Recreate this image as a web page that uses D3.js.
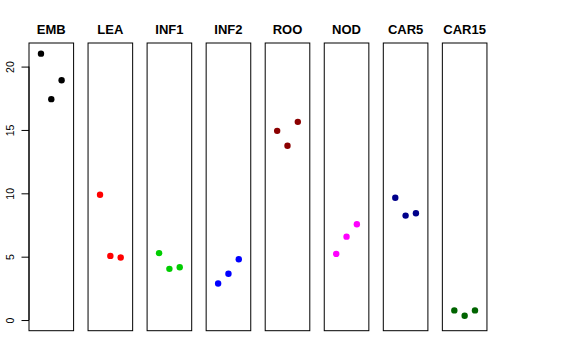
<!DOCTYPE html>
<html>
<head>
<meta charset="utf-8">
<script src="https://cdn.jsdelivr.net/npm/d3@7/dist/d3.min.js"></script>
<style>
  html, body { margin: 0; padding: 0; background: #fff; }
  svg { display: block; font-family: "Liberation Sans", Arial, Helvetica, sans-serif; }
</style>
</head>
<body>
<svg id="chart" width="576" height="360"></svg>
<script>
// ---- data ----
const categories = ["EMB", "LEA", "INF1", "INF2", "ROO", "NOD", "CAR5", "CAR15"];
const rep1 = [21.02, 9.89, 5.28, 2.88, 14.93, 5.22, 9.65, 0.76];
const rep2 = [17.43, 5.06, 4.04, 3.65, 13.75, 6.58, 8.24, 0.34];
const rep3 = [18.92, 4.93, 4.17, 4.80, 15.64, 7.56, 8.43, 0.76];
const colors = ["#000000", "#FF0000", "#00CD00", "#0000FF", "#8B0000", "#FF00FF", "#00008B", "#006400"];
const yTicks = [0, 5, 10, 15, 20];
const xPositions = [1, 2, 3];

// ---- layout ----
const svg = d3.select("#chart");
const panelLeft0 = 29, panelStep = 59.05, panelW = 44.6;
const panelTop = 43, panelBottom = 330.7;

const allVals = rep1.concat(rep2, rep3);
const yMin = 0, yMax = d3.max(allVals);
const pad = (yMax - yMin) * 0.04;
const y = d3.scaleLinear().domain([yMin - pad, yMax + pad]).range([panelBottom, panelTop]);

const panel = d3.scaleBand().domain(categories)
  .range([panelLeft0, panelLeft0 + panelStep * (categories.length - 1) + panelW])
  .paddingInner((panelStep - panelW) / panelStep).paddingOuter(0);

const xPad = (4 - 0) * 0.04;
const xInner = d3.scaleLinear().domain([0 - xPad, 4 + xPad]).range([0, panel.bandwidth()]);

categories.forEach((cat, i) => {
  const g = svg.append("g").attr("transform", `translate(${panel(cat)},0)`);
  const pts = [rep1[i], rep2[i], rep3[i]];
  g.selectAll("circle").data(pts).enter().append("circle")
    .attr("cx", (d, j) => xInner(xPositions[j]))
    .attr("cy", d => y(d))
    .attr("r", 3.2)
    .attr("fill", colors[i]);
  g.append("rect")
    .attr("x", 0).attr("y", panelTop)
    .attr("width", panel.bandwidth()).attr("height", panelBottom - panelTop)
    .attr("fill", "none").attr("stroke", "#000").attr("stroke-width", 1);
  g.append("text")
    .attr("x", panel.bandwidth() / 2).attr("y", 34)
    .attr("text-anchor", "middle")
    .attr("font-size", 13).attr("font-weight", "bold")
    .text(cat);
});

// ---- y axis ----
const axis = d3.axisLeft(y).tickValues(yTicks).tickSize(7.5).tickPadding(0).tickSizeOuter(0).tickFormat(d3.format("d"));
const ag = svg.append("g").attr("transform", `translate(${panelLeft0},0)`).call(axis);
ag.select(".domain").remove();
ag.append("line")
  .attr("x1", 0).attr("x2", 0)
  .attr("y1", y(yTicks[0])).attr("y2", y(yTicks[yTicks.length - 1]))
  .attr("stroke", "#000");
ag.selectAll(".tick line").attr("stroke", "#000");
ag.selectAll(".tick text")
  .attr("x", null).attr("dy", null)
  .attr("font-size", 10.5)
  .attr("font-family", "Liberation Sans, Arial, sans-serif")
  .attr("fill", "#000")
  .attr("text-anchor", "middle")
  .attr("transform", "translate(-15,0) rotate(-90)");
</script>
</body>
</html>
